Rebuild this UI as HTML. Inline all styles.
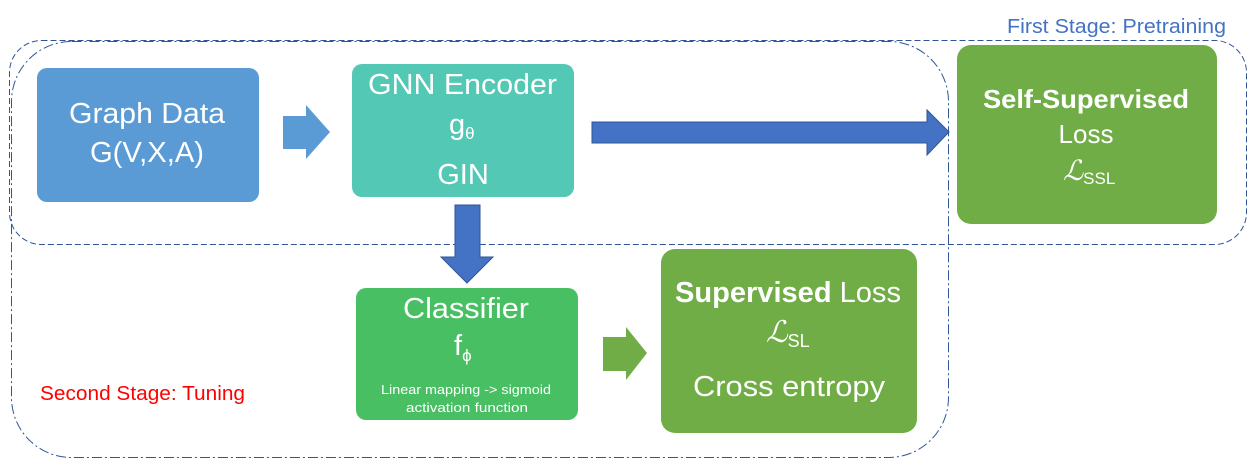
<!DOCTYPE html>
<html><head><meta charset="utf-8"><style>
body{margin:0;background:#fff;}
svg{display:block;font-family:"Liberation Sans",sans-serif;}
</style></head><body>
<svg width="1253" height="472" viewBox="0 0 1253 472" xmlns="http://www.w3.org/2000/svg">
<!-- stage boxes -->
<rect x="9.5" y="40.5" width="1237" height="204" rx="32" fill="none" stroke="#2f5597" stroke-width="1" stroke-dasharray="6,3"/>
<rect x="11.5" y="41.5" width="937" height="416" rx="60" fill="none" stroke="#2f5597" stroke-width="1" stroke-dasharray="10,3,2,3"/>
<text x="1007" y="33" font-size="20" fill="#4472c4" textLength="219" lengthAdjust="spacingAndGlyphs">First Stage: Pretraining</text>
<text x="40" y="400" font-size="20" fill="#ff0000" textLength="205" lengthAdjust="spacingAndGlyphs">Second Stage: Tuning</text>

<!-- Graph Data -->
<rect x="37" y="68" width="222" height="134" rx="10" fill="#5b9bd5"/>
<text x="69" y="123" font-size="29" fill="#fff" textLength="156" lengthAdjust="spacingAndGlyphs">Graph Data</text>
<text x="90" y="162" font-size="29" fill="#fff" textLength="114" lengthAdjust="spacingAndGlyphs">G(V,X,A)</text>
<polygon points="283,116 306,116 306,105 330,132 306,159 306,149 283,149" fill="#5b9bd5"/>

<!-- GNN Encoder -->
<rect x="352" y="64" width="222" height="133" rx="10" fill="#53c8b5"/>
<text x="368" y="94" font-size="29" fill="#fff" textLength="189" lengthAdjust="spacingAndGlyphs">GNN Encoder</text>
<text x="449" y="134" font-size="29" fill="#fff">g<tspan font-size="17" dy="5">θ</tspan></text>
<text x="463" y="184" font-size="29" fill="#fff" text-anchor="middle">GIN</text>

<!-- right arrow -->
<polygon points="592,122 927,122 927,110 949,132 927,155 927,143 592,143" fill="#4472c4" stroke="#2f5597" stroke-width="1"/>

<!-- Self-supervised -->
<rect x="957" y="45" width="260" height="179" rx="14" fill="#70ad47"/>
<text x="983" y="108" font-size="26" font-weight="bold" fill="#fff" textLength="206" lengthAdjust="spacingAndGlyphs">Self-Supervised</text>
<text x="1086" y="143" font-size="26" fill="#fff" text-anchor="middle">Loss</text>
<text x="1063" y="180" font-size="28" fill="#fff" font-family="Liberation Serif,serif" font-style="italic">ℒ<tspan font-size="17" font-style="normal" font-family="Liberation Sans,sans-serif" dy="4">SSL</tspan></text>

<!-- down arrow -->
<polygon points="455,205 480,205 480,257 493,257 467,283 441,257 455,257" fill="#4472c4" stroke="#2f5597" stroke-width="1"/>

<!-- Classifier -->
<rect x="356" y="288" width="222" height="132" rx="10" fill="#48bf63"/>
<text x="403" y="318" font-size="29" fill="#fff" textLength="126" lengthAdjust="spacingAndGlyphs">Classifier</text>
<text x="454" y="355" font-size="29" fill="#fff">f<tspan font-size="17" dy="6">ϕ</tspan></text>
<text x="381" y="394" font-size="13" fill="#fff" textLength="170" lengthAdjust="spacingAndGlyphs">Linear mapping -&gt; sigmoid</text>
<text x="406" y="412" font-size="13" fill="#fff" textLength="122" lengthAdjust="spacingAndGlyphs">activation function</text>

<!-- green arrow -->
<polygon points="603,337 626,337 626,327 647,353 626,380 626,371 603,371" fill="#70ad47"/>

<!-- Supervised loss -->
<rect x="661" y="249" width="256" height="184" rx="14" fill="#70ad47"/>
<text x="675" y="302" font-size="29" fill="#fff" textLength="226" lengthAdjust="spacingAndGlyphs"><tspan font-weight="bold">Supervised</tspan> Loss</text>
<text x="766" y="342" font-size="30" fill="#fff" font-family="Liberation Serif,serif" font-style="italic">ℒ<tspan font-size="18" font-style="normal" font-family="Liberation Sans,sans-serif" dy="5">SL</tspan></text>
<text x="693" y="396" font-size="29" fill="#fff" textLength="192" lengthAdjust="spacingAndGlyphs">Cross entropy</text>
</svg>
</body></html>
